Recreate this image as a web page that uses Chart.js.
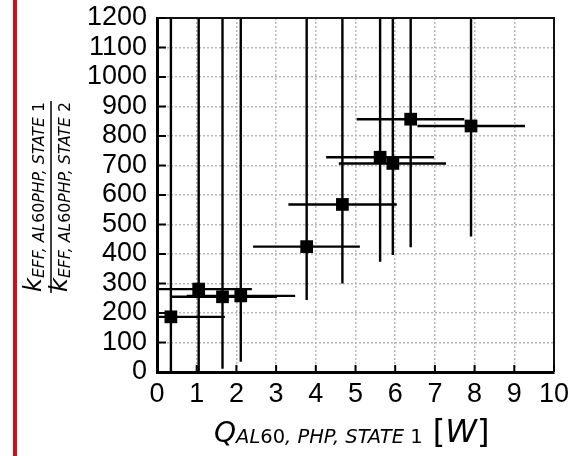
<!DOCTYPE html>
<html><head><meta charset="utf-8">
<script src="https://cdn.jsdelivr.net/npm/chart.js@4.4.0/dist/chart.umd.min.js"></script>
<style>html,body{margin:0;padding:0;background:#fff}#wrap{width:581px;height:456px}</style>
</head><body><div id="wrap"><canvas id="c" width="581" height="456"></canvas></div>
<script>
// Data
const qValues   = [0.35, 1.05, 1.65, 2.11, 3.77, 4.67, 5.62, 5.94, 6.39, 7.91];
const kRatio    = [187, 281, 255, 258, 425, 568, 728, 707, 857, 834];
const qLow      = [-1.00, -0.30, 0.33, 0.75, 2.42, 3.31, 4.26, 4.58, 5.03, 6.56];
const qHigh     = [1.71, 2.39, 3.02, 3.48, 5.11, 6.04, 6.98, 7.28, 7.74, 9.27];
const kLow      = [-30, -10, 11, 35, 244, 300, 374, 397, 423, 459];
const kHigh     = [1300, 1300, 1300, 1300, 1300, 1300, 1300, 1300, 1300, 1300];
const xTicks    = [0,1,2,3,4,5,6,7,8,9,10];
const yTicks    = [0,100,200,300,400,500,600,700,800,900,1000,1100,1200];

const points = qValues.map((q, i) => ({x: q, y: kRatio[i]}));

function drawRich(ctx, segs, x, y) {
  for (const s of segs) {
    ctx.font = (s.it ? 'italic ' : '') + s.size + 'px "DejaVu Sans"';
    ctx.fillText(s.t, x, y + (s.dy || 0));
    x += ctx.measureText(s.t).width;
  }
}
function richWidth(ctx, segs) {
  let w = 0;
  for (const s of segs) { ctx.font = (s.it ? 'italic ' : '') + s.size + 'px "DejaVu Sans"'; w += ctx.measureText(s.t).width; }
  return w;
}

const errorBars = {
  id: 'errorBars',
  beforeDatasetsDraw(chart) {
    const {ctx, chartArea: a, scales: {x, y}} = chart;
    ctx.save();
    ctx.beginPath(); ctx.rect(a.left, a.top, a.right - a.left, a.bottom - a.top); ctx.clip();
    ctx.strokeStyle = '#000'; ctx.lineWidth = 2.4;
    for (let i = 0; i < qValues.length; i++) {
      const px = x.getPixelForValue(qValues[i]), py = y.getPixelForValue(kRatio[i]);
      ctx.beginPath();
      ctx.moveTo(x.getPixelForValue(qLow[i]), py); ctx.lineTo(x.getPixelForValue(qHigh[i]), py);
      ctx.moveTo(px, y.getPixelForValue(kLow[i])); ctx.lineTo(px, y.getPixelForValue(kHigh[i]));
      ctx.stroke();
    }
    ctx.restore();
  }
};

const decor = {
  id: 'decor',
  afterDraw(chart) {
    const {ctx, chartArea: a, scales: {x, y}} = chart;
    ctx.save();
    ctx.strokeStyle = '#111'; ctx.lineWidth = 2;
    ctx.beginPath(); ctx.moveTo(a.left, a.top); ctx.lineTo(a.right, a.top); ctx.lineTo(a.right, a.bottom); ctx.stroke();
    ctx.lineWidth = 2; ctx.strokeStyle = '#000';
    ctx.beginPath();
    for (const v of yTicks) { const p = y.getPixelForValue(v); ctx.moveTo(a.left, p); ctx.lineTo(a.left + 9, p); }
    for (const v of xTicks) { const p = x.getPixelForValue(v); ctx.moveTo(p, a.bottom); ctx.lineTo(p, a.bottom - 7); }
    ctx.stroke();
    ctx.fillStyle = '#cc1020'; ctx.fillRect(13, 0, 4, 456);
    ctx.fillStyle = '#000'; ctx.textBaseline = 'alphabetic'; ctx.textAlign = 'left';
    const xs = [
      {t:'Q', size:28, it:1},
      {t:'AL', size:19.5, it:1, dy:1}, {t:'60', size:19.5, dy:1},
      {t:', PHP, STATE ', size:19.5, it:1, dy:1}, {t:'1', size:19.5, dy:1},
      {t:' ', size:32},
      {t:'[', size:32}, {t:'W', size:32, it:1}, {t:']', size:32}
    ];
    drawRich(ctx, xs, 214, 442);
    const mk = (n) => [
      {t:'k', size:24, it:1},
      {t:'EFF, AL', size:15.7, it:1, dy:3}, {t:'60', size:15.7, dy:3},
      {t:'PHP, STATE ', size:15.7, it:1, dy:3}, {t:n, size:15.7, dy:3}
    ];
    const cy = 197;
    ctx.translate(0, cy); ctx.rotate(-Math.PI / 2);
    const num = mk('1'), den = mk('2');
    const wn = richWidth(ctx, num), wd = richWidth(ctx, den);
    drawRich(ctx, num, -wn / 2, 41);
    drawRich(ctx, den, -wd / 2, 67);
    const bw = Math.max(wn, wd) / 2 + 1;
    ctx.lineWidth = 1.5; ctx.beginPath(); ctx.moveTo(-bw, 51); ctx.lineTo(bw, 51); ctx.stroke();
    ctx.restore();
  }
};

const tickFont = {family: '"Liberation Sans", Arial, sans-serif', size: 27};
new Chart(document.getElementById('c'), {
  type: 'scatter',
  data: { datasets: [{ data: points, pointStyle: 'rect', pointRadius: 9, pointHoverRadius: 9,
    backgroundColor: '#000', borderColor: '#000', borderWidth: 0 }] },
  options: {
    responsive: false, animation: false, devicePixelRatio: 1,
    layout: { padding: {left: 0, right: 27, top: 18, bottom: 0} },
    plugins: { legend: {display: false}, tooltip: {enabled: false} },
    scales: {
      x: { type: 'linear', min: 0, max: 10,
        afterBuildTicks: s => { s.ticks = xTicks.map(v => ({value: v})); },
        afterFit: s => { s.height = 84; s.paddingLeft = 0; s.paddingRight = 0; },
        ticks: { font: tickFont, color: '#000', padding: 6, maxRotation: 0, autoSkip: false, callback: v => String(v) },
        grid: { color: '#b8b8b8', lineWidth: 1.5, drawTicks: false },
        border: { display: true, color: '#000', width: 3, dash: [2, 2] } },
      y: { type: 'linear', min: 0, max: 1200,
        afterBuildTicks: s => { s.ticks = yTicks.map(v => ({value: v})); },
        afterFit: s => { s.width = 157; s.paddingTop = 0; s.paddingBottom = 0; },
        ticks: { font: tickFont, color: '#000', padding: 10, autoSkip: false, callback: v => String(v) },
        grid: { color: '#b8b8b8', lineWidth: 1.5, drawTicks: false },
        border: { display: true, color: '#000', width: 3, dash: [2, 2] } }
    }
  },
  plugins: [errorBars, decor]
});
</script></body></html>
